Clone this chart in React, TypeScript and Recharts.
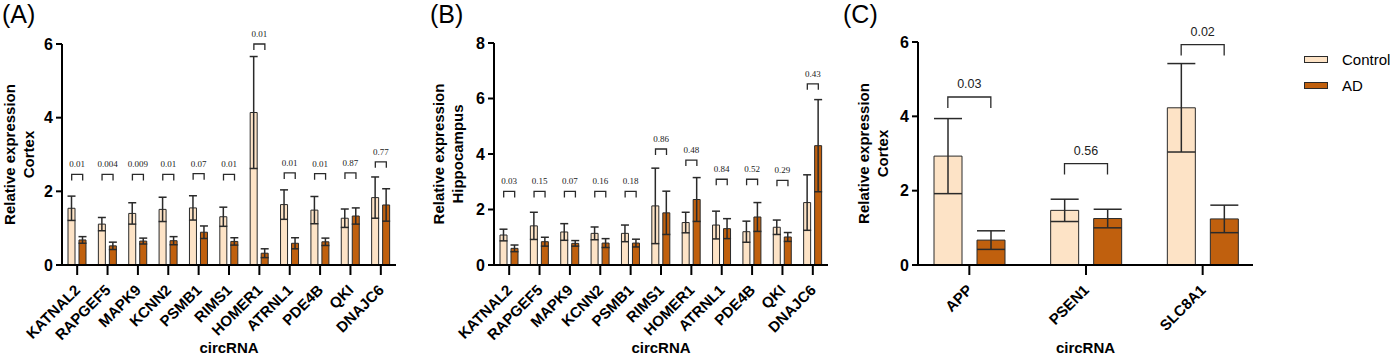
import React from "react";
import { ComposedChart, Bar, XAxis, YAxis, ErrorBar, Scatter } from "recharts";

const CTRL_FILL = "#FDE3C6";
const AD_FILL = "#C0600E";
const EDGE = "#2a2a2a";
const SANS = '"Liberation Sans", Arial, sans-serif';
const SERIF = '"Liberation Serif", "Times New Roman", serif';

// (A) cortex, 11 circRNAs
const CORTEX_GENES = ["KATNAL2", "RAPGEF5", "MAPK9", "KCNN2", "PSMB1", "RIMS1", "HOMER1", "ATRNL1", "PDE4B", "QKI", "DNAJC6"];
const CORTEX_CTRL = [1.54, 1.11, 1.4, 1.51, 1.55, 1.31, 4.14, 1.64, 1.49, 1.27, 1.83];
const CORTEX_CTRL_SD = [0.33, 0.18, 0.29, 0.33, 0.33, 0.26, 1.52, 0.4, 0.37, 0.25, 0.56];
const CORTEX_AD = [0.68, 0.52, 0.65, 0.66, 0.89, 0.64, 0.32, 0.59, 0.63, 1.33, 1.63];
const CORTEX_AD_SD = [0.09, 0.1, 0.08, 0.11, 0.17, 0.1, 0.12, 0.15, 0.1, 0.22, 0.44];
const CORTEX_BRACKET = [2.46, 2.46, 2.46, 2.46, 2.48, 2.46, 6.0, 2.5, 2.48, 2.5, 2.8];
const CORTEX_P = ["0.01", "0.004", "0.009", "0.01", "0.07", "0.01", "0.01", "0.01", "0.01", "0.87", "0.77"];

// (B) hippocampus, same circRNAs
const HIPPO_CTRL = [1.08, 1.41, 1.19, 1.14, 1.14, 2.13, 1.53, 1.44, 1.2, 1.36, 2.25];
const HIPPO_CTRL_SD = [0.21, 0.49, 0.3, 0.23, 0.3, 1.36, 0.37, 0.5, 0.38, 0.26, 1.0];
const HIPPO_AD = [0.6, 0.84, 0.78, 0.79, 0.79, 1.88, 2.36, 1.31, 1.73, 1.01, 4.3];
const HIPPO_AD_SD = [0.12, 0.16, 0.1, 0.16, 0.14, 0.78, 0.79, 0.36, 0.52, 0.16, 1.66];
const HIPPO_BRACKET = [2.65, 2.65, 2.65, 2.65, 2.65, 4.18, 3.78, 3.09, 3.09, 3.05, 6.53];
const HIPPO_P = ["0.03", "0.15", "0.07", "0.16", "0.18", "0.86", "0.48", "0.84", "0.52", "0.29", "0.43"];

// (C) cortex, AD-related genes
const C_GENES = ["APP", "PSEN1", "SLC8A1"];
const C_CTRL = [2.93, 1.47, 4.23];
const C_CTRL_SD = [1.01, 0.3, 1.19];
const C_AD = [0.67, 1.25, 1.24];
const C_AD_SD = [0.25, 0.25, 0.37];
const C_BRACKET = [4.52, 2.73, 5.93];
const C_P = ["0.03", "0.56", "0.02"];

function buildRows(names: string[], ctrl: number[], ctrlSd: number[], ad: number[], adSd: number[], bracket: number[], p: string[]) {
  return names.map((name, i) => ({
    name,
    ctrl: ctrl[i],
    ctrlSd: ctrlSd[i],
    ad: ad[i],
    adSd: adSd[i],
    bracket: bracket[i],
    p: p[i],
  }));
}

const cortexRows = buildRows(CORTEX_GENES, CORTEX_CTRL, CORTEX_CTRL_SD, CORTEX_AD, CORTEX_AD_SD, CORTEX_BRACKET, CORTEX_P);
const hippoRows = buildRows(CORTEX_GENES, HIPPO_CTRL, HIPPO_CTRL_SD, HIPPO_AD, HIPPO_AD_SD, HIPPO_BRACKET, HIPPO_P);
const cRows = buildRows(C_GENES, C_CTRL, C_CTRL_SD, C_AD, C_AD_SD, C_BRACKET, C_P);

function CatTick(props: any) {
  const { x, y, payload } = props;
  const ax = x + 4;
  const ay = y + 14;
  return (
    <text
      x={ax}
      y={ay}
      transform={`rotate(-45 ${ax} ${ay})`}
      textAnchor="end"
      fontFamily={SANS}
      fontWeight={700}
      fontSize={15}
      fill="#000"
    >
      {payload.value}
    </text>
  );
}

function YTitle(props: any) {
  const { viewBox, lines, offsets } = props;
  const plotLeft = viewBox.x + viewBox.width;
  const cy = viewBox.y + viewBox.height / 2;
  return (
    <g>
      {lines.map((t: string, i: number) => {
        const x = plotLeft + offsets[i];
        return (
          <text
            key={t}
            x={x}
            y={cy}
            transform={`rotate(-90 ${x} ${cy})`}
            textAnchor="middle"
            dominantBaseline="central"
            fontFamily={SANS}
            fontWeight={700}
            fontSize={15}
            fill="#000"
          >
            {t}
          </text>
        );
      })}
    </g>
  );
}

function bracketShape(half: number, leg: number, gap: number, fontSize: number, family: string) {
  return (props: any) => {
    const { cx, cy, payload } = props;
    if (cx == null || cy == null) return <g />;
    const x1 = cx - half;
    const x2 = cx + half;
    return (
      <g>
        <path
          d={`M${x1},${cy + leg} L${x1},${cy} L${x2},${cy} L${x2},${cy + leg}`}
          fill="none"
          stroke={EDGE}
          strokeWidth={1.3}
        />
        <text x={cx} y={cy - gap} textAnchor="middle" fontFamily={family} fontSize={fontSize} fill="#222">
          {payload.p}
        </text>
      </g>
    );
  };
}

interface PanelProps {
  rows: any[];
  left: number;
  width: number;
  margin: { top: number; right: number; bottom: number; left: number };
  yDomain: [number, number];
  yTicks: number[];
  title: string[];
  titleOffsets: number[];
  barSize: number;
  barGap: number;
  capWidth: number;
  pFont: number;
  pFamily: string;
  legLen: number;
  pGap: number;
  xPadding?: { left: number; right: number };
}

function Panel(p: PanelProps) {
  const axisStyle = { stroke: "#000", strokeWidth: 2 };
  return (
    <div style={{ position: "absolute", left: p.left, top: 0 }}>
      <ComposedChart
        width={p.width}
        height={356}
        data={p.rows}
        margin={p.margin}
        barGap={p.barGap}
        barCategoryGap={0}
      >
        <XAxis
          dataKey="name"
          type="category"
          interval={0}
          height={91}
          tickSize={10}
          tickMargin={2}
          axisLine={axisStyle}
          tickLine={axisStyle}
          tick={<CatTick />}
          padding={p.xPadding ?? { left: 0, right: 0 }}
          label={{
            value: "circRNA",
            position: "insideBottom",
            offset: 3,
            fontSize: 15,
            fontWeight: 700,
            fill: "#000",
            fontFamily: SANS,
          }}
        />
        <YAxis
          type="number"
          domain={p.yDomain}
          ticks={p.yTicks}
          interval={0}
          width={40}
          tickSize={6}
          tickMargin={3}
          axisLine={axisStyle}
          tickLine={axisStyle}
          tick={{ fontSize: 16, fontWeight: 700, fill: "#000", fontFamily: SANS }}
          label={<YTitle lines={p.title} offsets={p.titleOffsets} />}
        />
        <Bar dataKey="ctrl" fill={CTRL_FILL} stroke={EDGE} strokeWidth={1} barSize={p.barSize} isAnimationActive={false}>
          <ErrorBar dataKey="ctrlSd" width={p.capWidth} stroke={EDGE} strokeWidth={1.5} direction="y" />
        </Bar>
        <Bar dataKey="ad" fill={AD_FILL} stroke={EDGE} strokeWidth={1} barSize={p.barSize} isAnimationActive={false}>
          <ErrorBar dataKey="adSd" width={p.capWidth} stroke={EDGE} strokeWidth={1.5} direction="y" />
        </Bar>
        <Scatter
          dataKey="bracket"
          isAnimationActive={false}
          shape={bracketShape((p.barSize + p.barGap) / 2, p.legLen, p.pGap, p.pFont, p.pFamily)}
        />
      </ComposedChart>
    </div>
  );
}

const panelLabel: React.CSSProperties = {
  position: "absolute",
  top: -1,
  fontFamily: SANS,
  fontSize: 25,
  color: "#000",
  lineHeight: "30px",
};

export default function App() {
  return (
    <div style={{ position: "absolute", left: 0, top: 0, width: 1394, height: 356, background: "#fff", overflow: "hidden" }}>
      <Panel
        rows={cortexRows}
        left={0}
        width={420}
        margin={{ top: 44, right: 24, bottom: 0, left: 22 }}
        yDomain={[0, 6]}
        yTicks={[0, 2, 4, 6]}
        title={["Relative expression", "Cortex"]}
        titleOffsets={[-53, -34]}
        barSize={7}
        barGap={4}
        capWidth={4}
        pFont={9}
        pFamily={SERIF}
        legLen={6}
        pGap={7}
      />
      <Panel
        rows={hippoRows}
        left={420}
        width={440}
        margin={{ top: 43, right: 32, bottom: 0, left: 34 }}
        yDomain={[0, 8]}
        yTicks={[0, 2, 4, 6, 8]}
        title={["Relative expression", "Hippocampus"]}
        titleOffsets={[-56, -37]}
        barSize={7}
        barGap={4}
        capWidth={4}
        pFont={9}
        pFamily={SERIF}
        legLen={6}
        pGap={7}
      />
      <Panel
        rows={cRows}
        left={830}
        width={564}
        margin={{ top: 42, right: 141, bottom: 0, left: 48 }}
        yDomain={[0, 6]}
        yTicks={[0, 2, 4, 6]}
        title={["Relative expression", "Cortex"]}
        titleOffsets={[-55, -36]}
        barSize={28}
        barGap={15}
        capWidth={14}
        pFont={12.5}
        pFamily={SANS}
        legLen={11}
        pGap={9}
        xPadding={{ left: -7, right: -8 }}
      />
      <div style={{ ...panelLabel, left: 2 }}>(A)</div>
      <div style={{ ...panelLabel, left: 430 }}>(B)</div>
      <div style={{ ...panelLabel, left: 843 }}>(C)</div>
      <div style={{ position: "absolute", left: 1304, top: 46, fontFamily: SANS, fontSize: 15, color: "#000" }}>
        {[
          { label: "Control", fill: CTRL_FILL },
          { label: "AD", fill: AD_FILL },
        ].map((item) => (
          <div key={item.label} style={{ display: "flex", alignItems: "center", height: 26 }}>
            <span
              style={{
                display: "inline-block",
                width: 22,
                height: 5,
                background: item.fill,
                border: `1px solid ${EDGE}`,
                marginRight: 14,
              }}
            />
            <span>{item.label}</span>
          </div>
        ))}
      </div>
    </div>
  );
}
